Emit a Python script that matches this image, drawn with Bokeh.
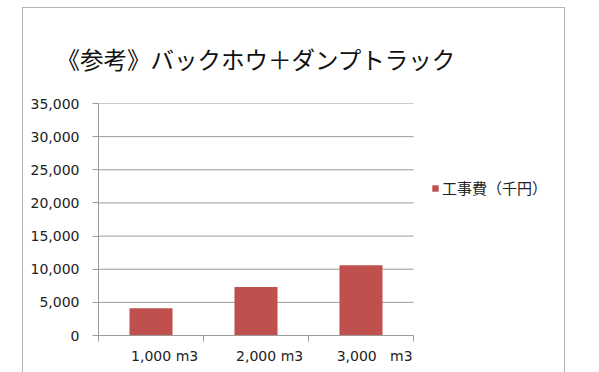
from bokeh.plotting import figure
from bokeh.models import (Range1d, FixedTicker, NumeralTickFormatter, Title, Legend,
                          LegendItem, ColumnDataSource)
from bokeh.embed import file_html
from bokeh.resources import INLINE

title_text = "《参考》バックホウ＋ダンプトラック"
categories = ["1,000 m3", "2,000 m3", "3,000\u00a0\u00a0 m3"]
values = [4100, 7300, 10600]
series_name = "工事費（千円）"
y_ticks = [0, 5000, 10000, 15000, 20000, 25000, 30000, 35000]

FONT = "Noto Sans CJK JP"
NUMFONT = "DejaVu Sans"
BAR = "#C0504D"
GRID = "#9a9a9a"

n = len(categories)
xs = [i + 0.5 for i in range(n)]
src = ColumnDataSource(dict(x=xs, top=values))

# layout (pixels): plot frame from x=97 to 565; category area 97..412
frame_w, cat_w = 468, 315
x_end = n * frame_w / cat_w

p = figure(width=543, height=365, output_backend="svg", toolbar_location=None,
           x_range=Range1d(0, x_end), y_range=Range1d(0, 35000),
           min_border_left=75, min_border_right=0, min_border_top=95,
           min_border_bottom=38, x_axis_location="below")
p.margin = (7, 0, 0, 22)
p.styles = {"border-top": "1px solid #b4b4b4", "border-left": "1px solid #b4b4b4",
            "border-right": "1px solid #b4b4b4"}
p.outline_line_color = None
p.background_fill_color = "white"
p.border_fill_color = "white"

# horizontal gridlines over the category area only
p.segment(x0=[0] * len(y_ticks), x1=[n] * len(y_ticks), y0=y_ticks, y1=y_ticks,
          line_color=GRID, line_width=1)

r = p.vbar(x="x", top="top", width=0.41, source=src, fill_color=BAR, line_color=None)

# y axis
ya = p.yaxis[0]
ya.ticker = FixedTicker(ticks=y_ticks, minor_ticks=[])
ya.formatter = NumeralTickFormatter(format="0,0")
ya.major_tick_out = 6
ya.major_tick_in = 0
ya.minor_tick_out = 0
ya.minor_tick_in = 0
ya.major_label_standoff = 13
ya.axis_line_color = GRID
ya.major_tick_line_color = GRID
ya.major_label_text_font = NUMFONT
ya.major_label_text_font_size = "14px"
ya.major_label_text_color = "#222222"

# x axis: labels at major ticks, boundary marks as minor ticks
xa = p.xaxis[0]
label_pos = [x + 0.13 for x in xs]
xa.bounds = (0, n)
xa.ticker = FixedTicker(ticks=label_pos, minor_ticks=list(range(n + 1)))
xa.major_label_overrides = {lp: c for lp, c in zip(label_pos, categories)}
xa.major_tick_out = 0
xa.major_tick_in = 0
xa.minor_tick_out = 6
xa.minor_tick_in = 0
xa.minor_tick_line_color = GRID
xa.axis_line_color = GRID
xa.major_label_standoff = 6
xa.major_label_text_font = NUMFONT
xa.major_label_text_font_size = "14px"
xa.major_label_text_color = "#222222"

p.xgrid.visible = False
p.ygrid.visible = False

t = Title(text=title_text, text_font=FONT, text_font_size="23.5px",
          text_font_style="normal", align="left", offset=-42, standoff=56,
          text_color="#111111")
p.add_layout(t, "above")

leg = Legend(items=[LegendItem(label=series_name, renderers=[r])], location=(333, 137),
             glyph_width=8, glyph_height=8, label_standoff=3, padding=0, margin=0,
             border_line_color=None, background_fill_alpha=0,
             label_text_font=FONT, label_text_font_size="15px", label_text_color="#222222")
p.add_layout(leg, "center")

open("out.html", "w").write(file_html(p, INLINE))
